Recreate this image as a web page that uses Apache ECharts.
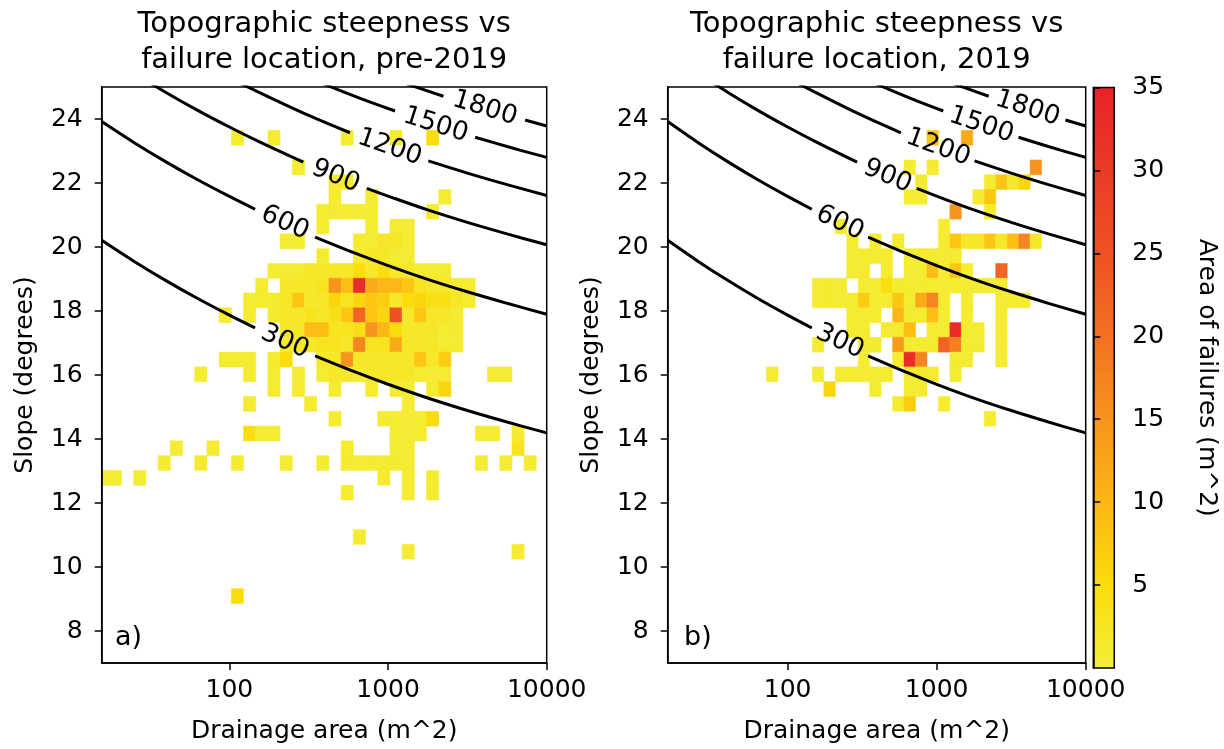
<!DOCTYPE html>
<html><head><meta charset="utf-8">
<script src="https://cdn.jsdelivr.net/npm/echarts@6/dist/echarts.min.js"></script>
<style>html,body{margin:0;padding:0;background:#fff;}#chart{width:1224px;height:749px;}</style>
</head><body><div id="chart"></div>
<script>
const FONT = 'DejaVu Sans';
const panelTitles = ['Topographic steepness vs\nfailure location, pre-2019', 'Topographic steepness vs\nfailure location, 2019'];
const panelLetters = ['a)', 'b)'];
const xAxisTitle = 'Drainage area (m^2)';
const yAxisTitle = 'Slope (degrees)';
const colorbarTitle = 'Area of failures (m^2)';
const areaTicks = [100, 1000, 10000];
const slopeTicks = [8, 10, 12, 14, 16, 18, 20, 22, 24];
const colorbarTicks = [5, 10, 15, 20, 25, 30, 35];
const areaRange = [15.67, 10000];
const slopeRange = [7, 25];
const colorRange = [0, 35];
// histogram bins: drainage area bins in log10 units, slope bins in degrees
const areaBinLogStart = 1.243, areaBinLogWidth = 0.0769;
const slopeBinStart = 8.86, slopeBinWidth = 0.462;
const colorStops = ['#f3ef3a', '#fbdc0c', '#fcb716', '#f7941d', '#f37021', '#ee5224', '#ea3a27', '#e8222a'];

// [area bin index, slope bin index, failure area (m^2)]
const cellsPre2019 = [
[10,31,1],[13,31,1],[19,31,1],[23,31,1],[26,31,5],
[15,29,1],
[18,28,1],[19,28,1],
[18,27,1],[21,27,1],[27,27,1],
[17,26,1],[18,26,1],[19,26,1],[20,26,1],[21,26,1],[26,26,1],
[17,25,1],[21,25,1],[23,25,1],[24,25,1],
[14,24,1],[15,24,1],[20,24,1],[21,24,1],[22,24,2],[23,24,2],[24,24,1],
[17,23,1],[20,23,1],[21,23,2],[22,23,2],[23,23,1],[24,23,1],
[13,22,1],[14,22,1],[15,22,1],[16,22,2],[17,22,2],[18,22,2],[19,22,2],[20,22,5],[21,22,2],[22,22,5],[23,22,2],[24,22,2],[25,22,1],[26,22,1],[27,22,1],
[12,21,1],[14,21,2],[15,21,2],[16,21,2],[17,21,3],[18,21,15],[19,21,9],[20,21,33],[21,21,12],[22,21,10],[23,21,10],[24,21,8],[25,21,3],[26,21,2],[27,21,2],[28,21,1],[29,21,1],
[11,20,1],[12,20,1],[13,20,1],[14,20,2],[15,20,8],[16,20,2],[17,20,2],[18,20,6],[19,20,3],[20,20,6],[21,20,8],[22,20,7],[23,20,2],[24,20,5],[25,20,6],[26,20,4],[27,20,4],[28,20,2],[29,20,1],
[9,19,1],[11,19,1],[13,19,1],[14,19,2],[15,19,2],[16,19,3],[17,19,2],[18,19,4],[19,19,8],[20,19,22],[21,19,8],[22,19,6],[23,19,25],[24,19,2],[25,19,8],[26,19,2],[27,19,2],[28,19,1],
[14,18,2],[15,18,2],[16,18,9],[17,18,9],[18,18,3],[19,18,3],[20,18,4],[21,18,15],[22,18,10],[23,18,5],[24,18,2],[25,18,2],[26,18,2],[27,18,1],[28,18,1],
[14,17,1],[15,17,2],[16,17,2],[17,17,3],[18,17,3],[19,17,2],[20,17,17],[21,17,3],[22,17,3],[23,17,12],[24,17,2],[25,17,2],[26,17,2],[27,17,1],[28,17,1],
[9,16,1],[10,16,1],[11,16,1],[13,16,1],[14,16,5],[17,16,2],[18,16,2],[19,16,15],[20,16,2],[21,16,2],[22,16,2],[23,16,2],[24,16,2],[25,16,8],[26,16,2],[27,16,7],
[7,15,1],[11,15,1],[13,15,1],[15,15,1],[17,15,1],[18,15,2],[19,15,2],[20,15,1],[21,15,2],[22,15,2],[23,15,2],[24,15,2],[25,15,1],[26,15,1],[27,15,1],[31,15,1],[32,15,1],
[13,14,1],[15,14,1],[18,14,1],[21,14,1],[23,14,1],[24,14,1],[26,14,1],[27,14,6],
[11,13,1],[16,13,1],[24,13,1],
[18,12,1],[22,12,1],[23,12,1],[24,12,1],[25,12,1],[26,12,5],
[11,11,5],[12,11,1],[13,11,1],[23,11,1],[24,11,1],[25,11,1],[30,11,1],[31,11,1],[33,11,1],
[5,10,1],[8,10,1],[19,10,1],[23,10,1],[24,10,1],[33,10,3],
[4,9,1],[7,9,1],[10,9,1],[14,9,1],[17,9,1],[19,9,1],[20,9,1],[21,9,1],[22,9,1],[23,9,1],[24,9,1],[30,9,1],[32,9,1],[34,9,1],
[-1,8,1],[0,8,1],[2,8,1],[22,8,1],[24,8,1],[26,8,1],
[19,7,1],[24,7,1],[26,7,1],
[20,4,1],
[24,3,1],[33,3,1],
[10,0,5]
];
const cells2019 = [
[22,31,8],[25,31,12],
[20,29,1],[22,29,1],[31,29,15],
[21,28,1],[27,28,1],[28,28,8],[29,28,2],[30,28,6],
[20,27,1],[21,27,1],[26,27,1],[27,27,8],
[24,26,15],[27,26,1],
[14,25,1],[23,25,1],
[15,24,1],[17,24,1],[19,24,1],[23,24,1],[24,24,8],[25,24,2],[26,24,2],[27,24,8],[28,24,2],[29,24,9],[30,24,17],[31,24,2],
[15,23,1],[16,23,1],[17,23,1],[18,23,1],[20,23,1],[21,23,1],[22,23,1],[23,23,1],[24,23,1],
[15,22,1],[16,22,1],[18,22,1],[20,22,1],[21,22,1],[22,22,9],[23,22,1],[24,22,8],[25,22,1],[28,22,22],
[12,21,1],[13,21,1],[14,21,1],[16,21,1],[17,21,1],[18,21,5],[19,21,1],[20,21,1],[21,21,1],[22,21,1],[23,21,1],[24,21,1],[25,21,1],[26,21,1],[27,21,1],[28,21,1],
[12,20,1],[13,20,1],[14,20,1],[15,20,1],[16,20,7],[17,20,1],[18,20,1],[19,20,8],[20,20,1],[21,20,12],[22,20,17],[23,20,1],[25,20,1],[28,20,1],[29,20,1],[30,20,1],
[15,19,1],[16,19,1],[17,19,1],[19,19,10],[20,19,1],[21,19,1],[22,19,9],[23,19,1],[25,19,1],[28,19,1],
[15,18,1],[16,18,1],[18,18,1],[19,18,1],[20,18,9],[22,18,1],[23,18,1],[24,18,33],[25,18,1],[26,18,1],[28,18,1],
[12,17,1],[16,17,1],[17,17,1],[19,17,14],[20,17,1],[21,17,1],[22,17,1],[23,17,22],[24,17,18],[25,17,1],[26,17,1],[28,17,1],
[16,16,1],[19,16,1],[20,16,33],[21,16,17],[24,16,1],[25,16,1],[28,16,1],
[8,15,1],[12,15,1],[14,15,1],[15,15,1],[16,15,1],[17,15,1],[18,15,1],[20,15,1],[21,15,1],[22,15,1],[24,15,1],
[13,14,6],[17,14,1],[20,14,1],[21,14,1],
[19,13,1],[20,13,7],[23,13,1],
[27,12,1]
];

// steepness contours: [drainage area (m^2), slope (deg)], null = gap for the inline label
const contour300 = [[15.67,20.21],[25.12,19.55],[39.81,18.95],[63.1,18.39],[100,17.87],[145.2,17.47],null,[346.7,16.6],[631,16.08],[1000,15.71],[1778,15.28],[3162,14.89],[5623,14.53],[10000,14.19]];
const contour600 = [[15.67,23.92],[25.12,23.26],[39.81,22.66],[63.1,22.1],[100,21.58],[145.2,21.18],null,[346.7,20.31],[631,19.79],[1000,19.42],[1778,18.99],[3162,18.6],[5623,18.24],[10000,17.9]];
const contour900 = [[15.67,26.09],[25.12,25.43],[39.81,24.83],[63.1,24.27],[100,23.75],[158.5,23.26],[292.4,22.65],null,[734.5,21.83],[1000,21.59],[1778,21.16],[3162,20.77],[5623,20.41],[10000,20.07]];
const contour1200 = [[15.67,27.63],[39.81,26.37],[100,25.29],[158.5,24.8],[316.2,24.11],[575.4,23.57],null,[1795,22.69],[3162,22.31],[5623,21.95],[10000,21.61]];
const contour1500 = [[39.81,27.56],[100,26.48],[316.2,25.3],[631,24.69],[1107,24.25],null,[3540,23.43],[5623,23.14],[10000,22.8]];
const contour1800 = [[100,27.46],[316.2,26.28],[631,25.67],[1000,25.3],[2234,24.71],null,[7311,23.97],[10000,23.78]];
const contourLines = [contour300, contour600, contour900, contour1200, contour1500, contour1800];
// contour labels: [text, area, slope]
const contourLabels = [['300',223.9,17.04],['600',223.9,20.75],['900',467.7,22.21],['1200',1023,23.11],['1500',1995,23.81],['1800',4074,24.33]];

const labelAngles = [[-24,-24,-22,-19,-17.5,-17],[-25.3,-25.3,-23.3,-20,-18.5,-18]];
const grids = [
  {left:101.7, top:87, width:445, height:581},
  {left:667.7, top:87, width:418, height:581}
];

const chart = echarts.init(document.getElementById('chart'), null, {renderer:'canvas'});
const txt = {fontFamily:FONT, color:'#000'};

function cellSeries(cells, idx) {
  return {
    type:'custom', xAxisIndex:idx, yAxisIndex:idx, clip:true, z:2,
    data: cells.map(([k,j,v]) => [Math.pow(10, areaBinLogStart + (k+0.5)*areaBinLogWidth), slopeBinStart + (j+0.5)*slopeBinWidth, v]),
    encode:{x:0, y:1},
    renderItem:(params, api) => {
      const lx = Math.log10(api.value(0)), y = api.value(1);
      const p0 = api.coord([Math.pow(10, lx - areaBinLogWidth/2), y + slopeBinWidth/2]);
      const p1 = api.coord([Math.pow(10, lx + areaBinLogWidth/2), y - slopeBinWidth/2]);
      const c = api.visual('color');
      return {type:'rect', shape:{x:p0[0], y:p0[1], width:p1[0]-p0[0], height:p1[1]-p0[1]}, style:{fill:c, stroke:c, lineWidth:0.5}};
    }
  };
}

const series = [cellSeries(cellsPre2019,0), cellSeries(cells2019,1)];
for (let p = 0; p < 2; p++) {
  contourLines.forEach(pts => {
    let seg = [];
    const segs = [];
    pts.forEach(pt => { if (pt === null) { segs.push(seg); seg = []; } else seg.push(pt); });
    segs.push(seg);
    segs.forEach(s => series.push({type:'line', xAxisIndex:p, yAxisIndex:p, data:s, smooth:0.35, showSymbol:false, symbol:'none', silent:true, z:3,
      lineStyle:{color:'#000', width:3}}));
  });
  // contour labels drawn as text elements at their data positions
  series.push({type:'custom', xAxisIndex:p, yAxisIndex:p, silent:true, z:4, clip:false,
    data: contourLabels.map((l,i) => [l[1], l[2], i]),
    encode:{x:0, y:1},
    renderItem:(params, api) => {
      const i = api.value(2);
      const pt = api.coord([api.value(0), api.value(1)]);
      return {type:'text', x:pt[0], y:pt[1], rotation:labelAngles[p][i]*Math.PI/180,
        style:{text:contourLabels[i][0], font:'26px "DejaVu Sans"', fill:'#000', align:'center', verticalAlign:'middle'}};
    }});
}
// colorbar
series.push({type:'custom', xAxisIndex:2, yAxisIndex:2, data:[[0,0]], silent:true,
  renderItem:(params, api) => {
    const p0 = api.coord([0, colorRange[1]]), p1 = api.coord([1, colorRange[0]]);
    return {type:'rect', shape:{x:p0[0], y:p0[1], width:p1[0]-p0[0], height:p1[1]-p0[1]},
      style:{fill:new echarts.graphic.LinearGradient(0,1,0,0, colorStops.map((c,i)=>({offset:i/(colorStops.length-1), color:c})))}};
  }});

const xAxes = [0,1].map(i => ({
  gridIndex:i, type:'log', logBase:10, min:areaRange[0], max:areaRange[1], z:5,
  axisLine:{show:true, onZero:false, lineStyle:{color:'#000', width:1.5}},
  axisTick:{show:true, length:7, lineStyle:{color:'#000', width:1.5}, customValues:areaTicks},
  axisLabel:{...txt, fontSize:25, margin:15, customValues:areaTicks, formatter:v => String(Math.round(v))},
  minorTick:{show:false}, splitLine:{show:false},
  name:xAxisTitle, nameLocation:'middle', nameGap:56, nameTextStyle:{...txt, fontSize:25}
}));
xAxes.push({gridIndex:2, type:'value', min:0, max:1, show:false});
const yAxes = [0,1].map(i => ({
  gridIndex:i, type:'value', min:slopeRange[0], max:slopeRange[1], z:5,
  axisLine:{show:true, onZero:false, lineStyle:{color:'#000', width:1.5}},
  axisTick:{show:true, length:7, lineStyle:{color:'#000', width:1.5}, customValues:slopeTicks},
  axisLabel:{...txt, fontSize:25, margin:19, customValues:slopeTicks},
  splitLine:{show:false},
  name:yAxisTitle, nameLocation:'middle', nameRotate:90, nameGap:64, nameTextStyle:{...txt, fontSize:25}
}));
yAxes.push({gridIndex:2, type:'value', min:colorRange[0], max:colorRange[1], position:'right', z:5,
  axisLine:{show:true, lineStyle:{color:'#000', width:1.5}},
  axisTick:{show:true, length:7, lineStyle:{color:'#000', width:1.5}, customValues:colorbarTicks},
  axisLabel:{...txt, fontSize:25, margin:18, customValues:colorbarTicks},
  splitLine:{show:false},
  name:colorbarTitle, nameLocation:'middle', nameRotate:-90, nameGap:80, nameTextStyle:{...txt, fontSize:25}});

const option = {
  backgroundColor:'#fff',
  animation:false,
  grid: grids.map(g => ({...g, show:true, borderColor:'#000', borderWidth:1.5, backgroundColor:'transparent', z:6}))
    .concat([{left:1093.3, top:87.5, width:21, height:580.5, show:true, borderColor:'#000', borderWidth:1.5, backgroundColor:'transparent', z:6}]),
  xAxis:xAxes, yAxis:yAxes,
  visualMap:{type:'continuous', show:false, min:colorRange[0], max:colorRange[1], dimension:2, seriesIndex:[0,1], inRange:{color:colorStops}},
  graphic: [
    {type:'text', x:grids[0].left + grids[0].width/2, y:6, style:{text:panelTitles[0], font:'29px "DejaVu Sans"', lineHeight:36, textAlign:'center', textVerticalAlign:'top', fill:'#000'}},
    {type:'text', x:grids[1].left + grids[1].width/2, y:6, style:{text:panelTitles[1], font:'29px "DejaVu Sans"', lineHeight:36, textAlign:'center', textVerticalAlign:'top', fill:'#000'}},
    {type:'text', x:115, y:638, style:{text:panelLetters[0], font:'27px "DejaVu Sans"', textAlign:'left', textVerticalAlign:'middle', fill:'#000'}},
    {type:'text', x:684, y:638, style:{text:panelLetters[1], font:'27px "DejaVu Sans"', textAlign:'left', textVerticalAlign:'middle', fill:'#000'}}
  ],
  series: series
};
chart.setOption(option);
</script></body></html>
